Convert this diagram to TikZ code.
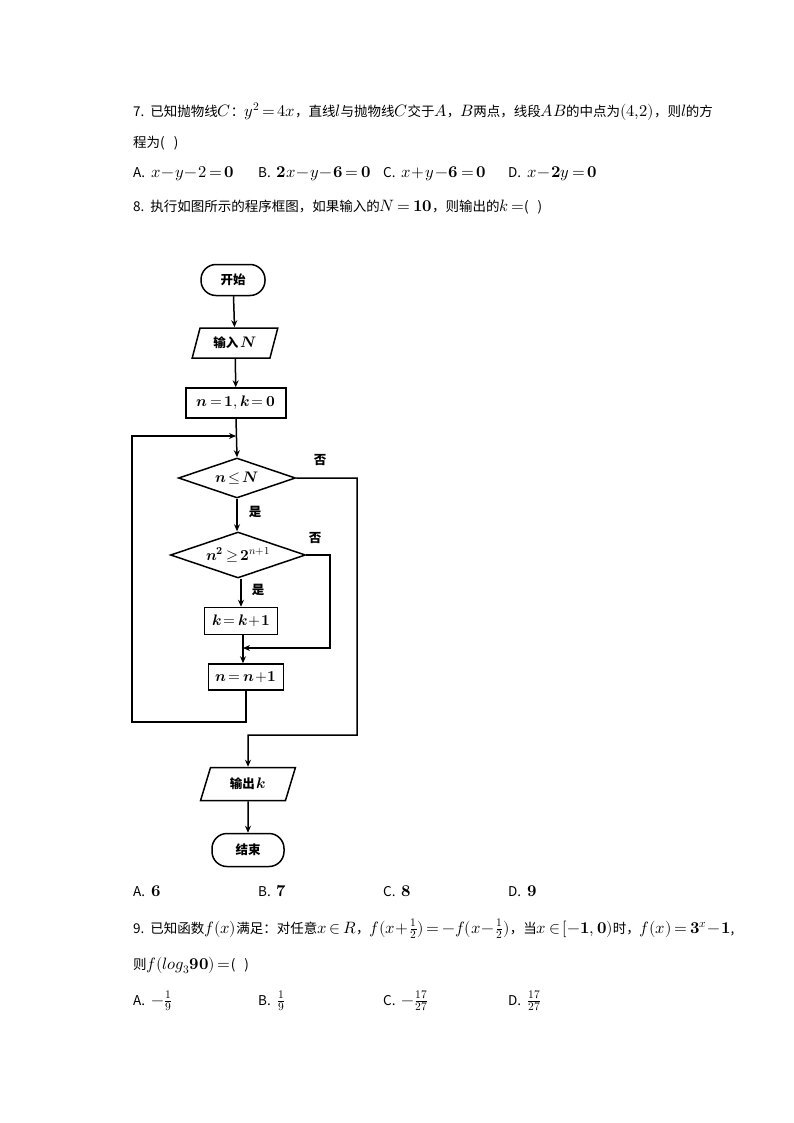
\documentclass[tikz,border=0pt]{standalone}
\usepackage{fontspec}
\usepackage{unicode-math}
\setmainfont{Liberation Serif}
\setmathfont{Latin Modern Math}[Scale=1.22]
\newfontfamily\cjk{Noto Sans CJK SC}
\newcommand{\bb}[1]{\symbf{#1}}
\newcommand{\bi}[1]{\symbfit{#1}}
\medmuskip=1mu
\thickmuskip=3mu
\usetikzlibrary{shapes.geometric,arrows.meta}
\begin{document}
\begin{tikzpicture}[x=1pt,y=-1pt,
  txt/.style={anchor=west,inner sep=0pt,font=\cjk\fontsize{13.5}{15}\selectfont},
  fc/.style={draw,line width=1.5pt,font=\cjk\bfseries\fontsize{12.5}{14}\selectfont,inner sep=1pt},
  term/.style={fc,rounded corners=15pt},
  box/.style={fc,rectangle},
  io/.style={fc,trapezium,trapezium left angle=70,trapezium right angle=110,trapezium stretches=true},
  dia/.style={fc,diamond,aspect=2.9,inner sep=0pt},
  ln/.style={line width=1.5pt},
  ar/.style={ln,-{Stealth[length=7pt,width=6pt]}},
  lab/.style={font=\cjk\bfseries\fontsize{12.5}{14}\selectfont,inner sep=0pt}]
\useasboundingbox (0,0) rectangle (794,1123);
\node[txt] (q7) at (133,112) {7.\ \ 已知抛物线$C$：$y^2=4x$，直线$l$与抛物线$C$交于$A$，$B$两点，线段$AB$的中点为$(4{,}2)$，则$l$的方};
\node[txt] (q7b) at (133,143) {程为(\ \ \ )};
\node[txt] (a7) at (133,174) {A.\ \ $x-y-2=\bb{0}$};
\node[txt] (b7) at (258,174) {B.\ \ $\bb{2}x-y-\bb{6}=\bb{0}$};
\node[txt] (c7) at (383,174) {C.\ \ $x+y-\bb{6}=\bb{0}$};
\node[txt] (d7) at (508,174) {D.\ \ $x-\bb{2}y=\bb{0}$};
\node[txt] (q8) at (133,207) {8.\ \ 执行如图所示的程序框图，如果输入的$N=\bb{10}$，则输出的$k=$(\ \ \ )};
% flowchart
\node[term,minimum width=64pt,minimum height=31pt] (s) at (233,280) {开始};
\node[io,minimum width=86pt,minimum height=30pt] (in) at (235,343) {输入\,$\bi{N}$};
\node[box,minimum width=100pt,minimum height=30pt] (init) at (236,403) {$\bi{n}=\bb{1},\bi{k}=\bb{0}$};
\node[dia,minimum width=117pt,minimum height=40pt] (d1) at (237,478) {$\bi{n}\le\bi{N}$};
\node[dia,minimum width=135pt,minimum height=46pt] (d2) at (238,555) {$\bi{n}^{\bb{2}}\ge\bb{2}^{n+1}$};
\node[box,minimum width=73pt,minimum height=27pt] (kk) at (241,621) {$\bi{k}=\bi{k}+\bb{1}$};
\node[box,minimum width=75pt,minimum height=26pt] (nn) at (246,677) {$\bi{n}=\bi{n}+\bb{1}$};
\node[io,minimum width=95pt,minimum height=33pt] (out) at (248,784) {输出\,$\bi{k}$};
\node[term,minimum width=72pt,minimum height=33pt] (e) at (248,850) {结束};
\coordinate (j1) at (236,436);
\coordinate (j2) at (243,648);
\draw[ar] (s) -- (in);
\draw[ar] (in) -- (init);
\draw[ar] (init.south) -- (d1.north);
\draw[ar] (d1.south) -- (d2.north -| d1.south);
\draw[ar] (d2.south -| kk.north) -- (kk.north);
\draw[ar] (kk.south -| j2) -- (nn.north -| j2);
\draw[ar] (nn.south) -- (246,722) -- (132,722) -- (132,436) -- (j1);
\draw[ar] (d2.east) -- (330,555) -- (330,648) -- (j2);
\draw[ar] (d1.east) -- (357,478) -- (357,735) -- (248,735) -- (out.north);
\draw[ar] (out) -- (e);
\node[lab] (n1) at (320,460) {否};
\node[lab] (y1) at (255,512) {是};
\node[lab] (n2) at (315,538) {否};
\node[lab] (y2) at (258,590) {是};
% after
\node[txt] (a8) at (133,891) {A.\ \ $\bb{6}$};
\node[txt] (b8) at (258,891) {B.\ \ $\bb{7}$};
\node[txt] (c8) at (383,891) {C.\ \ $\bb{8}$};
\node[txt] (d8) at (508,891) {D.\ \ $\bb{9}$};
\node[txt] (q9) at (133,929) {9.\ \ 已知函数$f(x)$满足：对任意$x\in R$，$f(x+\frac12)=-f(x-\frac12)$，当$x\in[-\bb{1},\bb{0})$时，$f(x)=\bb{3}^x-\bb{1}$,};
\node[txt] (q9b) at (133,965) {则$f(log_3\bb{90})=$(\ \ \ )};
\node[txt] (a9) at (133,1001) {A.\ \ $-\frac19$};
\node[txt] (b9) at (258,1001) {B.\ \ $\frac19$};
\node[txt] (c9) at (383,1001) {C.\ \ $-\frac{17}{27}$};
\node[txt] (d9) at (508,1001) {D.\ \ $\frac{17}{27}$};
\end{tikzpicture}
\end{document}
